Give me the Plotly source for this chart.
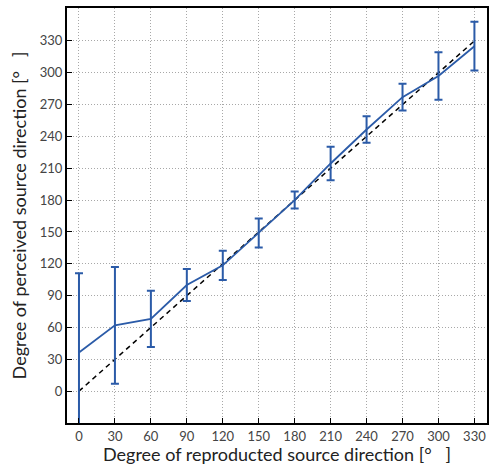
import plotly.graph_objects as go

reproduced = [0, 30, 60, 90, 120, 150, 180, 210, 240, 270, 300, 330]
perceived = [36.5, 62, 68, 100, 118.5, 149, 180, 214.5, 246.5, 277, 297, 325]
error = [74.5, 55, 26.5, 15, 13.7, 13.6, 8, 15.7, 12.5, 12.6, 22.4, 23]
ideal_x = [0, 330]
ideal_y = [0, 330]
tick_vals = [0, 30, 60, 90, 120, 150, 180, 210, 240, 270, 300, 330]

blue = "#2b5ba8"

fig = go.Figure()
fig.add_trace(go.Scatter(
    x=ideal_x, y=ideal_y, mode="lines",
    line=dict(color="black", width=1.5, dash="5px,4px"),
    showlegend=False, hoverinfo="skip"))
fig.add_trace(go.Scatter(
    x=reproduced, y=perceived, mode="lines",
    line=dict(color=blue, width=1.8),
    error_y=dict(type="data", array=error, visible=True, color=blue, thickness=2, width=4),
    showlegend=False))

axis_common = dict(
    showline=True, linecolor="black", linewidth=2, mirror=True,
    ticks="inside", ticklen=5, tickcolor="black", tickwidth=1,
    showgrid=True, gridcolor="#a8a8a8", griddash="1px,2px", gridwidth=1,
    zeroline=False,
    tickfont=dict(family="Lato, 'Noto Sans', sans-serif", size=13, color="#444444"),
    title_font=dict(family="Lato, 'Noto Sans', sans-serif", size=18, color="#222222"),
    tickvals=tick_vals,
)

fig.update_xaxes(range=[-10, 340.5], title_text="Degree of reproducted source direction [°   ]",
                 title_standoff=6, **axis_common)
fig.update_yaxes(range=[-30, 361], title_text="Degree of perceived source direction [°   ]",
                 title_standoff=8, **axis_common)

fig.update_layout(
    width=492, height=465,
    margin=dict(l=67, r=3, t=8, b=42),
    paper_bgcolor="white", plot_bgcolor="white",
)

fig.write_html("out.html")
